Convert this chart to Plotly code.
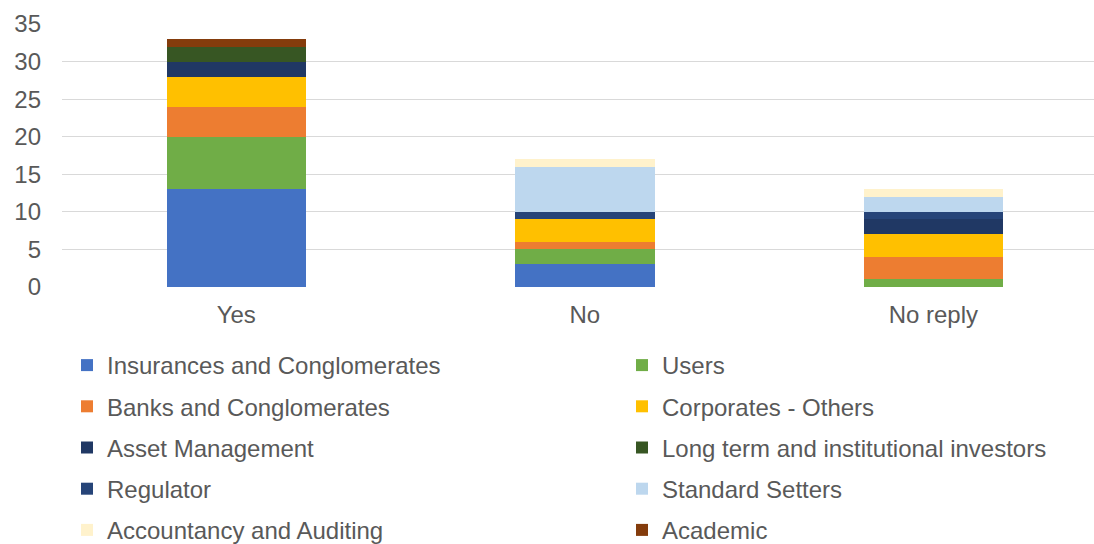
import plotly.graph_objects as go

categories = ["Yes", "No", "No reply"]

insurances = [13, 3, 0]
users = [7, 2, 1]
banks = [4, 1, 3]
corporates = [4, 3, 3]
asset_mgmt = [2, 0, 2]
long_term = [2, 0, 0]
regulator = [0, 1, 1]
standard_setters = [0, 6, 2]
accountancy = [0, 1, 1]
academic = [1, 0, 0]

series = [
    ("Insurances and Conglomerates", insurances, "#4472C4", "legend"),
    ("Users", users, "#70AD47", "legend2"),
    ("Banks and Conglomerates", banks, "#ED7D31", "legend"),
    ("Corporates - Others", corporates, "#FFC000", "legend2"),
    ("Asset Management", asset_mgmt, "#203864", "legend"),
    ("Long term and institutional investors", long_term, "#375623", "legend2"),
    ("Regulator", regulator, "#264478", "legend"),
    ("Standard Setters", standard_setters, "#BDD7EE", "legend2"),
    ("Accountancy and Auditing", accountancy, "#FFF2CC", "legend"),
    ("Academic", academic, "#843C0C", "legend2"),
]

FONT = "Arial, Liberation Sans, sans-serif"
GREY = "#595959"
FS = 24

fig = go.Figure()
for i, (name, vals, color, leg) in enumerate(series):
    fig.add_trace(go.Bar(
        x=categories, y=vals, name=name,
        marker=dict(color=color, line=dict(width=0)),
        legend=leg, legendgroup=f"g{i}",
    ))

legend_common = dict(
    orientation="v", xref="container", yref="container",
    xanchor="left", yanchor="top", y=(544 - 343) / 544,
    font=dict(family=FONT, size=FS, color=GREY),
    tracegroupgap=7, bgcolor="rgba(0,0,0,0)", maxheight=1000,
)

fig.update_layout(
    width=1094, height=544,
    barmode="stack", bargap=0.6,
    plot_bgcolor="white", paper_bgcolor="white",
    margin=dict(l=62, r=0, t=24, b=257, autoexpand=False),
    font=dict(family=FONT, size=FS, color=GREY),
    xaxis=dict(range=[-0.5, 2.461], showgrid=False, showline=False,
               zeroline=False, ticks="", ticklabelstandoff=11,
               tickfont=dict(family=FONT, size=FS, color=GREY)),
    yaxis=dict(range=[0, 35], dtick=5, showgrid=True, gridcolor="#D9D9D9",
               gridwidth=1, zeroline=False, showline=False, ticks="",
               ticklabelstandoff=20,
               tickfont=dict(family=FONT, size=FS, color=GREY)),
    legend=dict(legend_common, x=67 / 1094),
    legend2=dict(legend_common, x=622 / 1094),
)

fig.write_html("out.html", config={"displayModeBar": False},
               post_script="document.body.style.margin='0';")
